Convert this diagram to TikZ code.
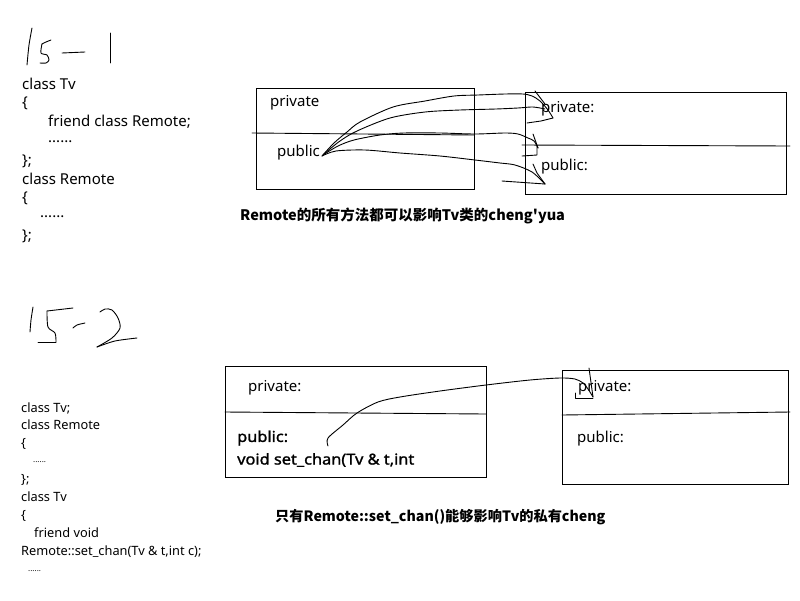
\documentclass[tikz,border=0pt]{standalone}
\usepackage{fontspec}
\setmainfont{Noto Sans}
\newfontfamily\heavy{Noto Sans}[FakeBold=1.3]
\newfontfamily\cjk{Noto Sans CJK SC}
\begin{document}
\begin{tikzpicture}[x=1pt,y=-1pt,
  ink/.style={line width=0.9pt, line cap=round, line join=round},
  boxline/.style={draw, line width=0.9pt},
  codeA/.style={anchor=west, inner sep=0pt, font=\fontsize{15}{17}\selectfont},
  codeB/.style={anchor=west, inner sep=0pt, font=\fontsize{12.8}{14}\selectfont},
  lbl/.style={anchor=west, inner sep=0pt, font=\fontsize{15}{17}\selectfont},
  heavylbl/.style={anchor=west, inner sep=0pt, font=\heavy\fontsize{15}{17}\selectfont, xscale=1.09},
  caption/.style={anchor=west, inner sep=0pt, font=\cjk\bfseries\fontsize{14.5}{16}\selectfont}]
\useasboundingbox (0,0) rectangle (800,600);
\fill[white] (0,0) rectangle (800,600);

% ---------- handwriting 15-1 ----------
\draw[ink] plot[smooth] coordinates {(32,28) (29,45) (27,65)};
\draw[ink] plot[smooth] coordinates {(51,40) (46,42) (42,44)};
\draw[ink] plot[smooth] coordinates {(42,44) (41,53) (47,55) (49,60) (46,63) (40,63)};
\draw[ink] (62,53) -- (85,52);
\draw[ink] (110,33) -- (110,63);

% ---------- code 15-1 ----------
\node[codeA] (a1) at (22,84) {class Tv};
\node[codeA] (a2) at (22,103) {\{};
\node[codeA] (a3) at (48,122) {friend class Remote;};
\node[codeA] (a4) at (48,142) {......};
\node[codeA] (a5) at (22,161) {\};};
\node[codeA] (a6) at (22,179) {class Remote};
\node[codeA] (a7) at (22,198) {\{};
\node[codeA] (a8) at (40,217) {......};
\node[codeA] (a9) at (22,236) {\};};

% ---------- boxes 15-1 ----------
\draw[boxline] (256,88) rectangle (474,189);
\draw[ink] (252,133) -- (474,135);
\node[lbl] (pa) at (270,103) {private};
\node[lbl] (pb) at (277,153) {public};

\draw[boxline] (525,92) rectangle (786,194);
\draw[ink] (522,145) -- (790,146);
\node[lbl] (pc) at (541,109) {private:};
\node[lbl] (pd) at (541,167) {public:};

% curves from public
\draw[ink] plot[smooth] coordinates {(322,156) (334,143) (347,132) (360,122) (393,107) (425,101) (454,96) (478,95) (505,94) (523,94) (532,96) (540,101) (548,110) (553,118)};
\draw[ink] (553,118) -- (541,121) -- (527,123);
\draw[ink] (535,91) -- (545,104);
\draw[ink] plot[smooth] coordinates {(324,154) (340,141) (357,131) (390,118) (425,112) (460,110) (496,109) (518,108) (533,107) (545,109)};
\draw[ink] plot[smooth] coordinates {(323,155) (338,146) (354,140) (380,135) (404,133) (440,133) (475,134) (505,133) (518,134) (528,138) (534,141) (538,148)};
\draw[ink] (533,134) -- (538,148);
\draw[ink] (537,146) -- (537,155) -- (522,156);
\draw[ink] plot[smooth] coordinates {(322,156) (336,151) (365,150) (400,153) (440,156) (475,160) (500,163) (515,165) (532,172) (545,184)};
\draw[ink] (533,164) -- (537,173) -- (545,184);
\draw[ink] (502,181) -- (545,184);

\node[caption] (c1) at (240,216) {Remote的所有方法都可以影响Tv类的cheng'yua};

% ---------- handwriting 15-2 ----------
\draw[ink] plot[smooth] coordinates {(33,307) (31,320) (30,332)};
\draw[ink] (47,311) -- (73,308);
\draw[ink] plot[smooth] coordinates {(47,311) (48,327) (55,333) (56,342)};
\draw[ink] (38,342) -- (56,342);
\draw[ink] plot[smooth] coordinates {(73,328) (77,325) (85,323)};
\draw[ink] plot[smooth] coordinates {(100,312) (105,309) (112,310) (118,318) (120,328) (112,338) (97,347)};
\draw[ink] plot[smooth] coordinates {(97,347) (115,341) (137,338)};

% ---------- code 15-2 ----------
\node[codeB] (b1) at (21,408) {class Tv;};
\node[codeB] (b2) at (21,425) {class Remote};
\node[codeB] (b3) at (21,444) {\{};
\node[codeB, font=\fontsize{8}{9}\selectfont] (b4) at (33,462) {......};
\node[codeB] (b5) at (21,480) {\};};
\node[codeB] (b6) at (21,497) {class Tv};
\node[codeB] (b7) at (21,516) {\{};
\node[codeB] (b8) at (34,533) {friend void};
\node[codeB] (b9) at (21,552) {Remote::set\_chan(Tv \& t,int c);};
\node[codeB, font=\fontsize{8}{9}\selectfont] (b10) at (28,571) {......};

% ---------- boxes 15-2 ----------
\draw[boxline] (225,366) rectangle (486,477);
\draw[ink] (225,412) -- (486,414);
\node[lbl] (qa) at (248,388) {private:};
\node[heavylbl] (qb) at (237,438) {public:};
\node[heavylbl] (qc) at (237,460) {void set\_chan(Tv \& t,int};

\draw[boxline] (562,370) rectangle (788,484);
\draw[ink] (562,415) -- (790,412);
\node[lbl] (qd) at (578,388) {private:};
\node[lbl] (qe) at (577,439) {public:};

\draw[ink] plot[smooth] coordinates {(328,446) (328,438) (343,425) (357,413) (378,402) (400,397) (440,391) (486,385) (530,380) (560,378) (575,379) (583,383) (588,389) (593,397)};
\draw[ink] (589,368) -- (593,397);
\draw[ink] (575,393) -- (575,398) -- (593,398);

\node[caption, font=\cjk\bfseries\fontsize{14.2}{16}\selectfont] (c2) at (275,517) {只有Remote::set\_chan()能够影响Tv的私有cheng};
\end{tikzpicture}
\end{document}
